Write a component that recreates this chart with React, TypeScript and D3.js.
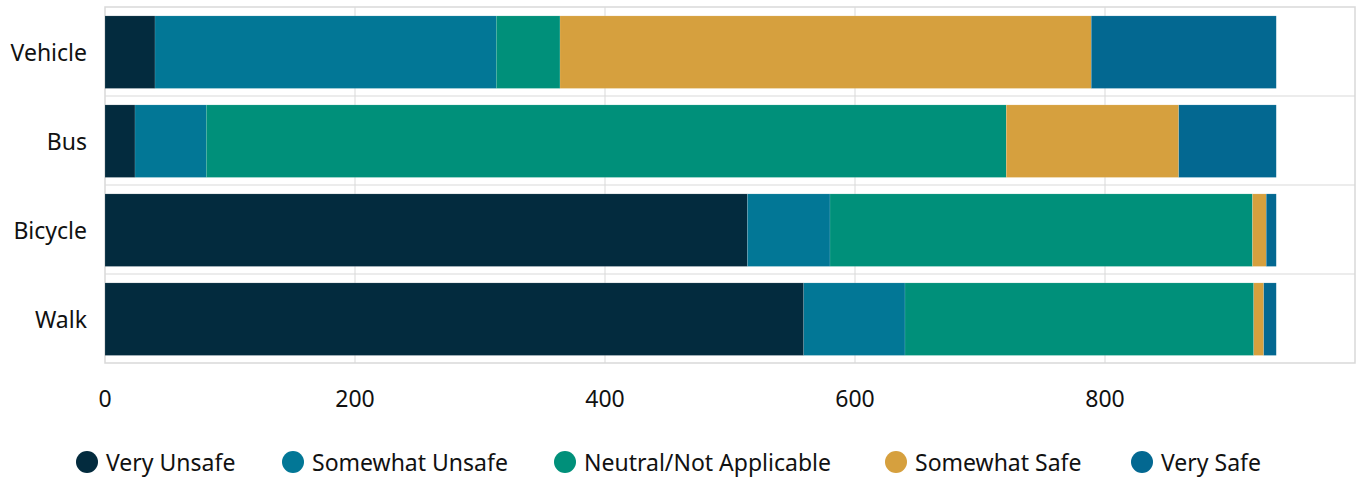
import React from "react";
import * as d3 from "d3";

const categories = ["Vehicle", "Bus", "Bicycle", "Walk"];
const seriesNames = ["Very Unsafe", "Somewhat Unsafe", "Neutral/Not Applicable", "Somewhat Safe", "Very Safe"];
const veryUnsafe = [40, 24, 514, 559];
const somewhatUnsafe = [273, 57, 66, 81];
const neutral = [51, 640, 338, 279];
const somewhatSafe = [425, 138, 11, 8];
const verySafe = [148, 78, 8, 10];
const xTicks = [0, 200, 400, 600, 800];
const colors = ["#032b3e", "#027796", "#00907a", "#d6a03e", "#036891"];

const W = 1362;
const H = 481;
const left = 105;
const right = 1355;
const top = 7;
const bottom = 363;

export default function App() {
  const seriesValues = [veryUnsafe, somewhatUnsafe, neutral, somewhatSafe, verySafe];
  const rows = categories.map((c, i) => {
    const r: any = { cat: c };
    seriesNames.forEach((s, j) => (r[s] = seriesValues[j][i]));
    return r;
  });
  const stacked = d3.stack().keys(seriesNames)(rows);
  const x = d3.scaleLinear().domain([0, 1000]).range([left, right]);
  const y = d3.scaleBand().domain(categories).range([top, bottom]).padding(0);
  const step = y.bandwidth();
  const barOff = step * 0.1;
  const barH = step * 0.815;
  const font = "'Segoe UI', 'Noto Sans', 'Open Sans', sans-serif";
  const grid = "#d9d9d9";
  const legendX = [87, 293, 565, 896, 1142];
  const fs = 23;

  return (
    <svg width={W} height={H} style={{ position: "absolute", left: 0, top: 0 }} fontFamily={font}>
      <rect x={0} y={0} width={W} height={H} fill="#ffffff" />
      {xTicks.slice(1).map((t) => (
        <line key={t} x1={x(t)} x2={x(t)} y1={top} y2={bottom} stroke={grid} strokeWidth={1} />
      ))}
      {categories.slice(1).map((c) => (
        <line key={c} x1={left} x2={right} y1={y(c)!} y2={y(c)!} stroke={grid} strokeWidth={1} />
      ))}
      <rect x={left} y={top} width={right - left} height={bottom - top} fill="none" stroke={grid} strokeWidth={1.5} />
      {stacked.map((s, j) => (
        <g key={s.key} fill={colors[j]}>
          {s.map((d, i) => (
            <rect
              key={i}
              x={x(d[0])}
              width={x(d[1]) - x(d[0])}
              y={y(categories[i])! + barOff}
              height={barH}
              stroke="rgba(255,255,255,0.25)"
              strokeWidth={0.5}
            />
          ))}
        </g>
      ))}
      {categories.map((c) => (
        <text key={c} x={87} y={y(c)! + step / 2} textAnchor="end" dominantBaseline="central" fontSize={fs} fill="#111">
          {c}
        </text>
      ))}
      {xTicks.map((t) => (
        <text key={t} x={x(t)} y={398} textAnchor="middle" dominantBaseline="central" fontSize={fs} fill="#111">
          {t}
        </text>
      ))}
      {seriesNames.map((s, j) => (
        <g key={s}>
          <circle cx={legendX[j]} cy={462} r={11} fill={colors[j]} />
          <text x={legendX[j] + 19} y={462} dominantBaseline="central" fontSize={fs} fill="#111">
            {s}
          </text>
        </g>
      ))}
    </svg>
  );
}
